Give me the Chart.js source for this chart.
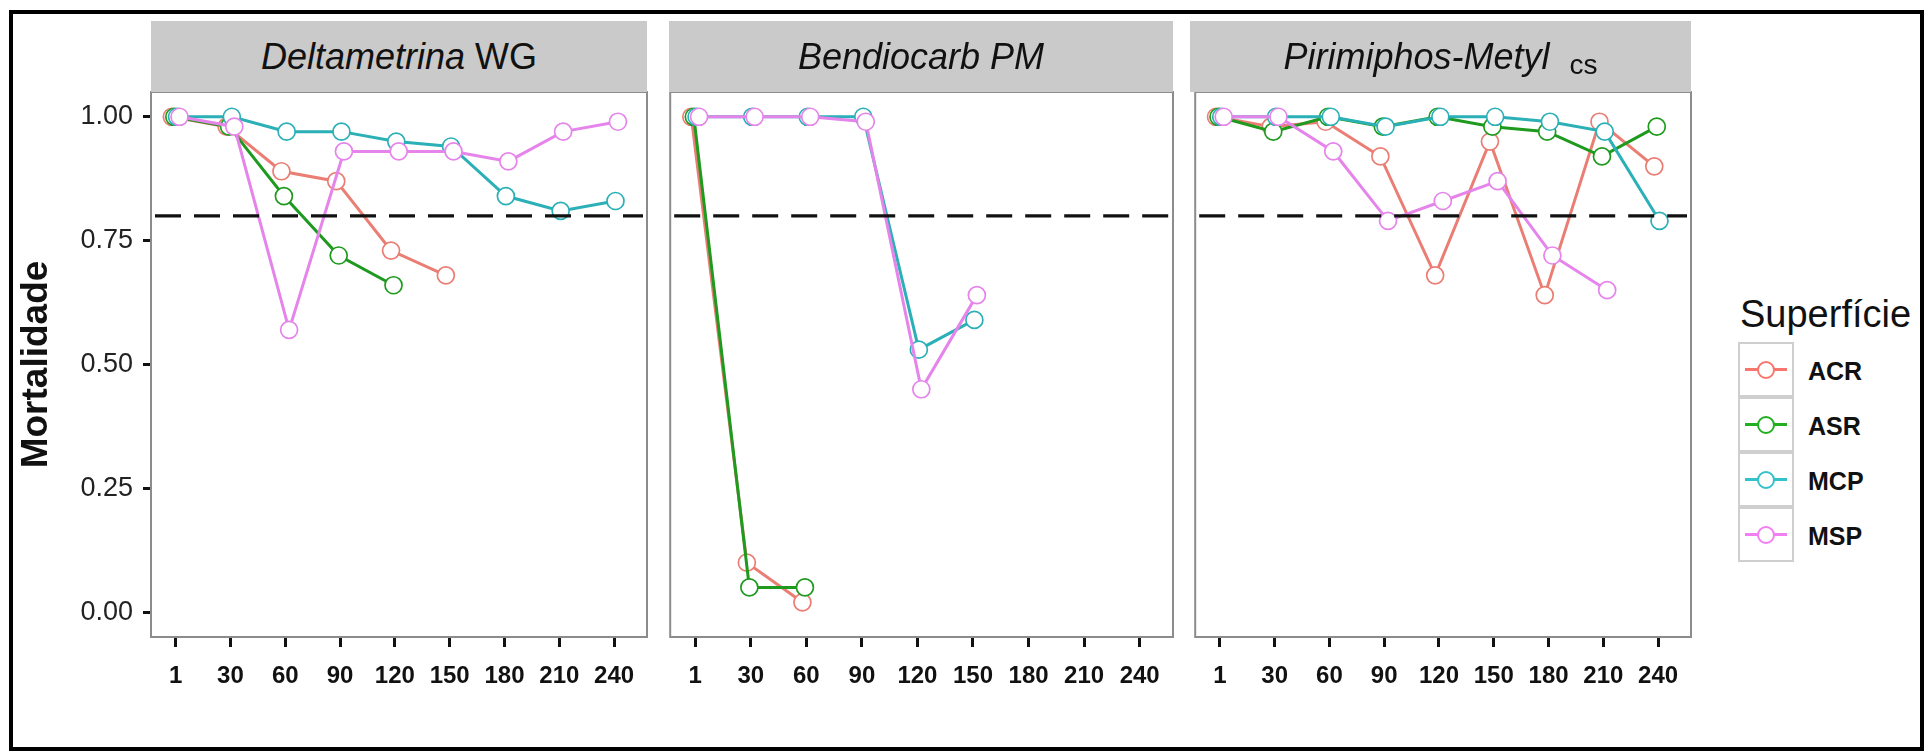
<!DOCTYPE html>
<html><head><meta charset="utf-8">
<script src="https://cdn.jsdelivr.net/npm/chart.js@4.4.1/dist/chart.umd.min.js"></script>
<style>
html,body{margin:0;padding:0;background:#fff;width:1928px;height:755px;overflow:hidden;font-family:"Liberation Sans",Arial,sans-serif;}
.frame{position:absolute;left:9px;top:10px;width:1907px;height:733px;border:4px solid #000;pointer-events:none;}
canvas.pc{position:absolute;top:0;}
.strip{position:absolute;top:21px;height:71px;background:#cacaca;display:flex;align-items:center;justify-content:center;font-size:36px;color:#111;}
.strip i{font-style:italic;}
.small{font-size:28px;position:relative;top:5px;}
#legTitle{position:absolute;left:1740px;top:294px;font-size:38px;line-height:40px;color:#111;}
.key{position:absolute;left:1738px;width:52px;height:51px;border:2px solid #cfcfcf;}
.key .ln{position:absolute;left:5px;right:5px;top:24px;height:3px;}
.key .pt{position:absolute;left:17px;top:17px;width:14px;height:14px;border-radius:50%;background:#fff;border:2px solid;}
.klab{position:absolute;left:1808px;font-size:25px;font-weight:bold;color:#111;line-height:30px;}
</style>
</head><body>
<div class="frame"></div>
<canvas id="c1" class="pc" width="660" height="755" style="left:0px"></canvas>
<canvas id="c2" class="pc" width="525" height="755" style="left:660px"></canvas>
<canvas id="c3" class="pc" width="520" height="755" style="left:1185px"></canvas>
<div class="strip" style="left:151px;width:496px"><span><i>Deltametrina</i>&nbsp;WG</span></div>
<div class="strip" style="left:669px;width:504px"><span><i>Bendiocarb PM</i></span></div>
<div class="strip" style="left:1190px;width:501px"><span><i>Pirimiphos-Metyl</i>&nbsp;&nbsp;<span class="small">cs</span></span></div>
<div id="legTitle">Superfície</div>
<div id="legend"></div>
<script>
// ---------- data ----------
const categories = ['1', '30', '60', '90', '120', '150', '180', '210', '240'];
const seriesNames = ['ACR', 'ASR', 'MCP', 'MSP'];
const yTickValues = [0, 0.25, 0.5, 0.75, 1.0];
const threshold = 0.80;
const yAxisTitle = 'Mortalidade';
const legendTitle = 'Superfície';

// Deltametrina WG
const deltaACR = [1.00, 0.98, 0.89, 0.87, 0.73, 0.68, null, null, null];
const deltaASR = [1.00, 0.98, 0.84, 0.72, 0.66, null, null, null, null];
const deltaMCP = [1.00, 1.00, 0.97, 0.97, 0.95, 0.94, 0.84, 0.81, 0.83];
const deltaMSP = [1.00, 0.98, 0.57, 0.93, 0.93, 0.93, 0.91, 0.97, 0.99];

// Bendiocarb PM
const bendACR = [1.00, 0.10, 0.02, null, null, null, null, null, null];
const bendASR = [1.00, 0.05, 0.05, null, null, null, null, null, null];
const bendMCP = [1.00, 1.00, 1.00, 1.00, 0.53, 0.59, null, null, null];
const bendMSP = [1.00, 1.00, 1.00, 0.99, 0.45, 0.64, null, null, null];

// Pirimiphos-Metyl CS
const pirACR = [1.00, 0.98, 0.99, 0.92, 0.68, 0.95, 0.64, 0.99, 0.90];
const pirASR = [1.00, 0.97, 1.00, 0.98, 1.00, 0.98, 0.97, 0.92, 0.98];
const pirMCP = [1.00, 1.00, 1.00, 0.98, 1.00, 1.00, 0.99, 0.97, 0.79];
const pirMSP = [1.00, 1.00, 0.93, 0.79, 0.83, 0.87, 0.72, 0.65, null];

// ---------- styles ----------
const colors = {ACR: '#EA7E74', ASR: '#1E9A1E', MCP: '#2AB0B6', MSP: '#E584EA'};
const legendColors = {ACR: '#F8766D', ASR: '#22B022', MCP: '#33C2CA', MSP: '#F27FF2'};
const dodge = {ACR: -0.07, ASR: -0.025, MCP: 0.025, MSP: 0.07};
const drawOrder = {ACR: 3, ASR: 2, MCP: 1, MSP: 0};
const FONT = '"Liberation Sans", Arial, sans-serif';

const decoPlugin = {
  id: 'deco',
  afterDatasetsDraw(chart) {
    const {ctx, chartArea: a, scales} = chart;
    const y = scales.y.getPixelForValue(threshold);
    ctx.save();
    ctx.strokeStyle = '#111';
    ctx.lineWidth = 3.2;
    ctx.setLineDash([26, 13]);
    ctx.beginPath();
    ctx.moveTo(a.left + 4, y);
    ctx.lineTo(a.right - 4, y);
    ctx.stroke();
    ctx.setLineDash([]);
    ctx.strokeStyle = '#8c8c8c';
    ctx.lineWidth = 2;
    ctx.strokeRect(a.left, a.top, a.right - a.left, a.bottom - a.top);
    ctx.restore();
  }
};

function makeChart(id, seriesData, showY, pad) {
  const datasets = seriesNames.map((name, i) => ({
    label: name,
    data: seriesData[i].map((v, j) => ({x: j + dodge[name], y: v})),
    borderColor: colors[name],
    backgroundColor: '#fff',
    pointBackgroundColor: '#fff',
    pointBorderColor: colors[name],
    pointRadius: 8.5,
    pointBorderWidth: 1.7,
    borderWidth: 3,
    tension: 0,
    spanGaps: false,
    order: drawOrder[name],
    clip: 12
  }));
  const yScale = {
    display: showY,
    min: -0.05, max: 1.05,
    afterBuildTicks: s => { s.ticks = yTickValues.map(v => ({value: v})); },
    ticks: {
      callback: v => v.toFixed(2),
      padding: 10, color: '#222',
      font: {family: FONT, size: 27}
    },
    grid: {display: true, drawOnChartArea: false, drawTicks: true, tickLength: 8, tickWidth: 3, tickColor: '#111'},
    border: {display: false},
    title: {
      display: true, text: yAxisTitle, color: '#111',
      font: {family: FONT, size: 37, weight: 'bold'},
      padding: {top: 15, bottom: 0}
    }
  };
  if (showY) yScale.afterFit = s => { s.width = 151; };
  return new Chart(document.getElementById(id), {
    type: 'line',
    data: {datasets},
    options: {
      responsive: false,
      animation: false,
      devicePixelRatio: 1,
      layout: {padding: pad},
      plugins: {legend: {display: false}, tooltip: {enabled: false}},
      scales: {
        x: {
          type: 'linear', min: -0.45, max: 8.6,
          afterBuildTicks: s => { s.ticks = categories.map((c, i) => ({value: i})); },
          afterFit: s => { s.height = 118; },
          ticks: {
            callback: v => categories[v],
            autoSkip: false, maxRotation: 0, minRotation: 0,
            padding: 15, color: '#111',
            font: {family: FONT, size: 24, weight: 'bold'}
          },
          grid: {display: true, drawOnChartArea: false, drawTicks: true, tickLength: 10, tickWidth: 3, tickColor: '#111'},
          border: {display: false}
        },
        y: yScale
      }
    },
    plugins: [decoPlugin]
  });
}

makeChart('c1', [deltaACR, deltaASR, deltaMCP, deltaMSP], true, {top: 92, left: 0, right: 13, bottom: 0});
makeChart('c2', [bendACR, bendASR, bendMCP, bendMSP], false, {top: 92, left: 9, right: 12, bottom: 0});
makeChart('c3', [pirACR, pirASR, pirMCP, pirMSP], false, {top: 92, left: 5, right: 14, bottom: 0});

// ---------- legend ----------
document.getElementById('legTitle').textContent = legendTitle;
const leg = document.getElementById('legend');
seriesNames.forEach((name, i) => {
  const top = 342 + i * 55;
  const k = document.createElement('div');
  k.className = 'key';
  k.style.top = top + 'px';
  k.innerHTML = '<div class="ln" style="background:' + legendColors[name] + '"></div>' +
                '<div class="pt" style="border-color:' + legendColors[name] + '"></div>';
  leg.appendChild(k);
  const l = document.createElement('div');
  l.className = 'klab';
  l.style.top = (top + 14) + 'px';
  l.textContent = name;
  leg.appendChild(l);
});
</script>
</body></html>
